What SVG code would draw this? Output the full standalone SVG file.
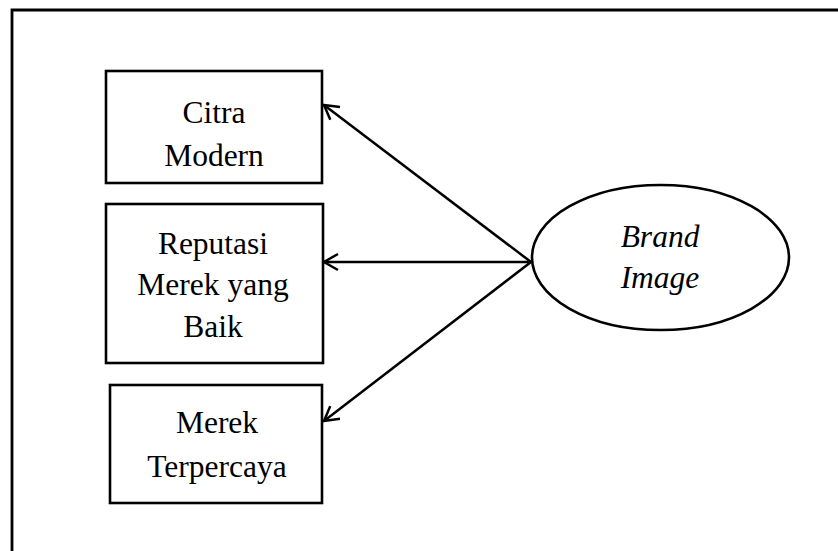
<svg xmlns="http://www.w3.org/2000/svg" width="838" height="551" viewBox="0 0 838 551">
  <style>
    .frame { fill: none; stroke: #000; stroke-width: 2.8; }
    .box { fill: #fff; stroke: #000; stroke-width: 2.6; }
    .label { font-family: "Liberation Serif", "Times New Roman", serif; font-size: 31.5px; fill: #000; text-anchor: middle; }
    .ital { font-style: italic; }
    .edge { stroke: #000; stroke-width: 2.5; fill: none; marker-end: url(#open); }
  </style>
  <defs>
    <marker id="open" viewBox="0 0 20 20" refX="17" refY="10" markerWidth="20" markerHeight="20" markerUnits="userSpaceOnUse" orient="auto">
      <path d="M3,2 L17,10 L3,18" fill="none" stroke="#000" stroke-width="2.5"/>
    </marker>
  </defs>
  <rect width="838" height="551" fill="#fff"/>
  <!-- outer frame: only top and left sides are shown -->
  <path class="frame" d="M12,551 V10 H838"/>

  <g id="connectors">
    <line class="edge" x1="531" y1="262" x2="324" y2="105"/>
    <line class="edge" x1="531" y1="262" x2="324" y2="262"/>
    <line class="edge" x1="531" y1="262" x2="324" y2="421"/>
  </g>

  <g id="citra-modern">
    <rect class="box" x="106" y="71" width="216" height="112"/>
    <text class="label" x="214" y="123">Citra</text>
    <text class="label" x="214" y="166">Modern</text>
  </g>

  <g id="reputasi-merek">
    <rect class="box" x="106" y="204" width="217" height="159"/>
    <text class="label" x="213" y="254">Reputasi</text>
    <text class="label" x="213" y="295">Merek yang</text>
    <text class="label" x="213" y="337">Baik</text>
  </g>

  <g id="merek-terpercaya">
    <rect class="box" x="110" y="385" width="212" height="118"/>
    <text class="label" x="217" y="433">Merek</text>
    <text class="label" x="217" y="477">Terpercaya</text>
  </g>

  <g id="brand-image">
    <ellipse class="box" cx="660.5" cy="257.5" rx="128.5" ry="72.5"/>
    <text class="label ital" x="660" y="247">Brand</text>
    <text class="label ital" x="660" y="288">Image</text>
  </g>
</svg>
